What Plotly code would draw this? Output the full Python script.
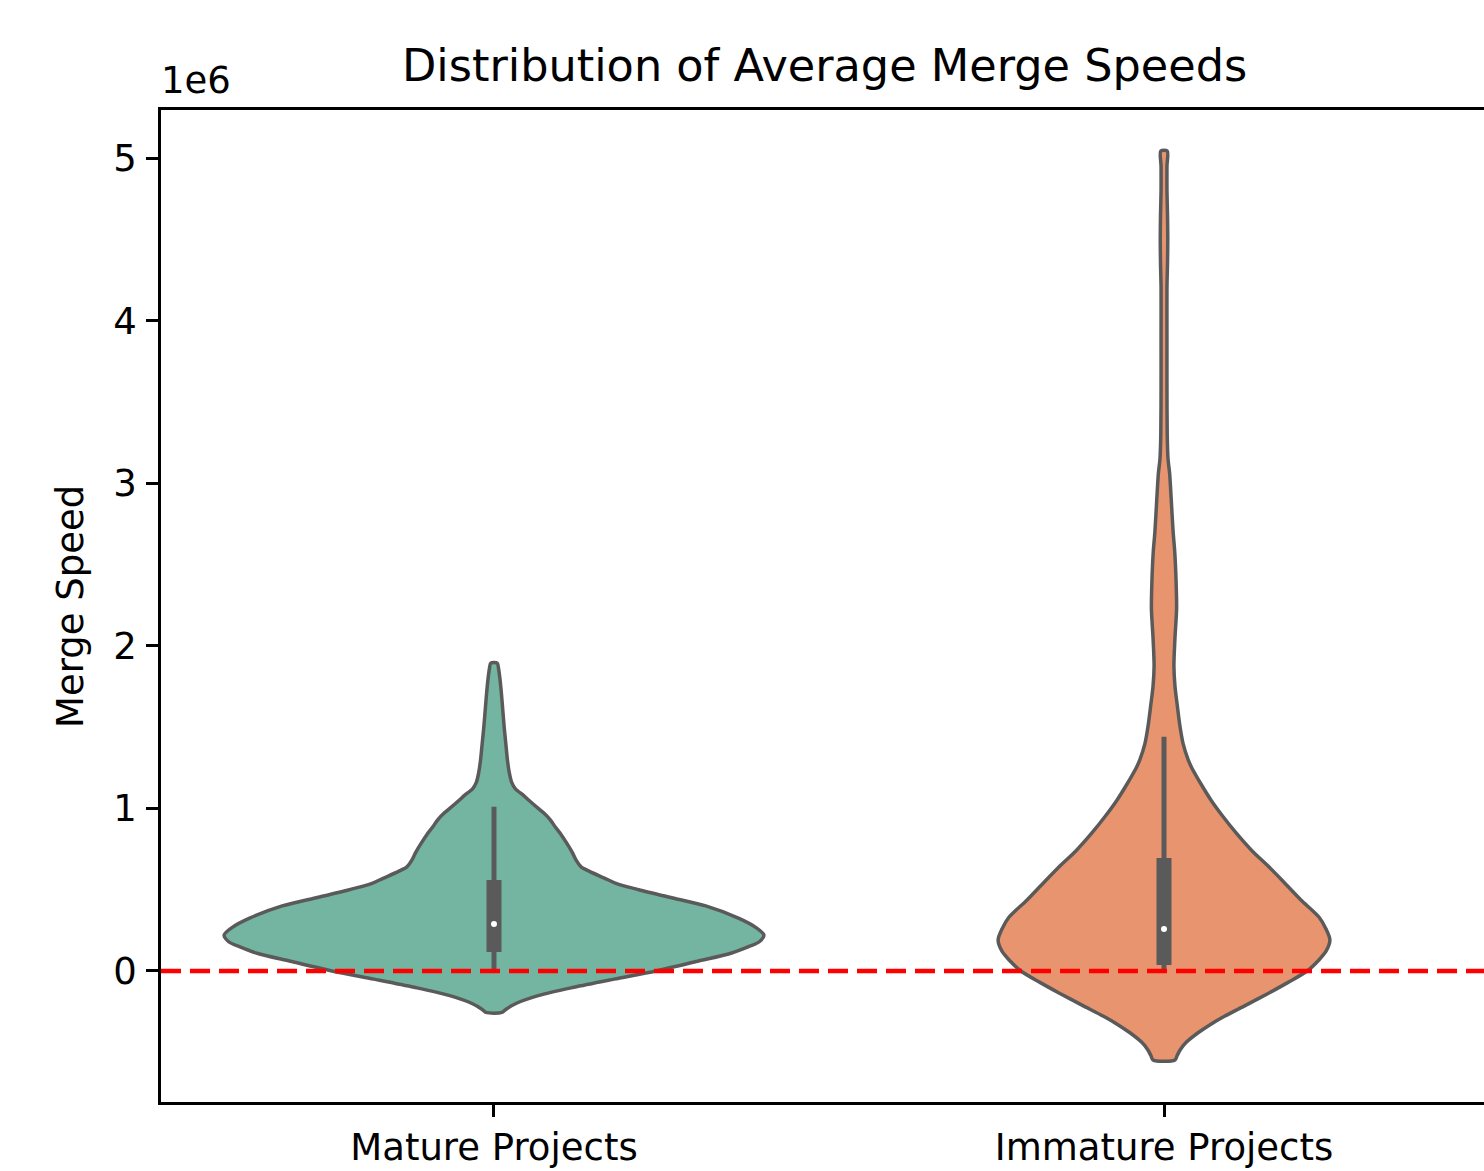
import plotly.graph_objects as go

# ---------------------------------------------------------------------------
# Data
# ---------------------------------------------------------------------------
categories = ["Mature Projects", "Immature Projects"]

# Kernel-density outline of each group: merge-speed levels (high -> low)
# and the relative density at each level (1.0 = widest point of the plot).
mature_levels = [
    1.894e6, 1.86e6, 1.80e6, 1.70e6, 1.60e6, 1.50e6, 1.40e6, 1.30e6, 1.22e6,
    1.16e6, 1.12e6, 1.08e6, 1.05e6, 1.00e6, 0.97e6, 0.93e6, 0.887e6, 0.84e6,
    0.785e6, 0.73e6, 0.683e6, 0.64e6, 0.611e6, 0.57e6, 0.539e6, 0.50e6,
    0.447e6, 0.40e6, 0.324e6, 0.27e6, 0.221e6, 0.18e6, 0.15e6, 0.109e6,
    0.06e6, 0.0, -0.05e6, -0.10e6, -0.15e6, -0.20e6, -0.235e6, -0.255e6,
]
mature_density = [
    0.012, 0.017, 0.022, 0.028, 0.033, 0.038, 0.044, 0.050, 0.057,
    0.066, 0.080, 0.110, 0.130, 0.165, 0.187, 0.210, 0.228, 0.250,
    0.272, 0.292, 0.306, 0.325, 0.358, 0.414, 0.455, 0.540,
    0.672, 0.790, 0.914, 0.975, 1.007, 0.990, 0.950, 0.884,
    0.760, 0.604, 0.448, 0.298, 0.168, 0.082, 0.045, 0.030,
]

immature_levels = [
    5.043e6, 4.95e6, 4.80e6, 4.65e6, 4.50e6, 4.35e6, 4.20e6, 3.90e6, 3.60e6,
    3.30e6, 3.15e6, 3.06e6, 2.90e6, 2.70e6, 2.58e6, 2.40e6, 2.23e6, 2.05e6,
    1.876e6, 1.75e6, 1.64e6, 1.50e6, 1.40e6, 1.30e6, 1.255e6, 1.15e6,
    1.052e6, 0.95e6, 0.849e6, 0.74e6, 0.64e6, 0.54e6, 0.437e6, 0.332e6,
    0.26e6, 0.191e6, 0.12e6, 0.068e6, 0.0, -0.07e6, -0.135e6, -0.21e6,
    -0.28e6, -0.33e6, -0.38e6, -0.44e6, -0.486e6, -0.52e6, -0.547e6,
]
immature_density = [
    0.012, 0.011, 0.011, 0.013, 0.014, 0.013, 0.011, 0.011, 0.011,
    0.012, 0.015, 0.021, 0.027, 0.034, 0.040, 0.045, 0.047, 0.041,
    0.037, 0.041, 0.049, 0.060, 0.071, 0.090, 0.102, 0.138,
    0.175, 0.220, 0.269, 0.328, 0.392, 0.451, 0.511, 0.578,
    0.604, 0.619, 0.604, 0.578, 0.534, 0.463, 0.392, 0.306,
    0.224, 0.172, 0.127, 0.082, 0.060, 0.049, 0.041,
]

# Box summary: lower whisker, Q1, median, Q3, upper whisker
mature_stats = [0.006e6, 0.117e6, 0.289e6, 0.56e6, 1.01e6]
immature_stats = [0.0, 0.037e6, 0.258e6, 0.695e6, 1.44e6]

y_tick_values = [0, 1e6, 2e6, 3e6, 4e6, 5e6]
y_tick_labels = ["0", "1", "2", "3", "4", "5"]

# ---------------------------------------------------------------------------
# Styling
# ---------------------------------------------------------------------------
FONT = "DejaVu Sans"
FILL_COLORS = ["#73b5a0", "#e8956f"]
EDGE = "#5a5a5a"
HALF_WIDTH = 0.4  # half of the violin width (category units)

fig = go.Figure()

groups = [
    (0, mature_levels, mature_density, mature_stats),
    (1, immature_levels, immature_density, immature_stats),
]

for pos, levels, density, stats in groups:
    asc_levels = levels[::-1]
    asc_density = density[::-1]
    # right half bottom -> top, then left half top -> bottom, then close
    xs = [pos + d * HALF_WIDTH for d in asc_density] + \
         [pos - d * HALF_WIDTH for d in density]
    ys = list(asc_levels) + list(levels)
    xs.append(xs[0])
    ys.append(ys[0])
    fig.add_trace(go.Scatter(
        x=xs, y=ys, mode="lines", fill="toself",
        fillcolor=FILL_COLORS[pos],
        line=dict(color=EDGE, width=3.5, shape="spline", smoothing=0.8),
        hoverinfo="skip", showlegend=False,
    ))
    lo, q1, med, q3, hi = stats
    # whisker
    fig.add_trace(go.Scatter(
        x=[pos, pos], y=[lo, hi], mode="lines",
        line=dict(color=EDGE, width=5),
        hoverinfo="skip", showlegend=False,
    ))
    # interquartile box
    fig.add_trace(go.Scatter(
        x=[pos, pos], y=[q1, q3], mode="lines",
        line=dict(color=EDGE, width=15),
        hoverinfo="skip", showlegend=False,
    ))
    # median
    fig.add_trace(go.Scatter(
        x=[pos], y=[med], mode="markers",
        marker=dict(color="white", size=6, line=dict(width=0)),
        hoverinfo="skip", showlegend=False,
    ))

# reference line at zero
fig.add_shape(
    type="line", xref="x domain", yref="y",
    x0=0, x1=1, y0=0, y1=0,
    line=dict(color="red", width=4.5, dash="20px,9px"),
    layer="above",
)

axis_common = dict(
    showgrid=False, zeroline=False,
    showline=True, linecolor="black", linewidth=2.5,
    ticks="outside", ticklen=12, tickwidth=2.5, tickcolor="black",
    tickfont=dict(family=FONT, size=37, color="black"),
)

fig.update_layout(
    width=1484, height=1171,
    margin=dict(l=161, r=0, t=110, b=69),
    paper_bgcolor="white", plot_bgcolor="white",
    showlegend=False,
    xaxis=dict(
        range=[-0.497, 1.4776],
        tickmode="array", tickvals=[0, 1], ticktext=categories,
        mirror=True, ticklabelstandoff=-1,
        **axis_common,
    ),
    yaxis=dict(
        range=[-0.8057e6, 5.2952e6],
        tickmode="array", tickvals=y_tick_values, ticktext=y_tick_labels,
        ticklabelstandoff=2,
        **axis_common,
    ),
    annotations=[
        dict(
            text="Distribution of Average Merge Speeds",
            xref="paper", yref="paper", x=0.5, y=1,
            xanchor="center", yanchor="bottom", yshift=16, xshift=2,
            showarrow=False,
            font=dict(family=FONT, size=44.6, color="black"),
        ),
        dict(
            text="1e6",
            xref="paper", yref="paper", x=0, y=1,
            xanchor="left", yanchor="bottom", yshift=6, xshift=-2,
            showarrow=False,
            font=dict(family=FONT, size=37, color="black"),
        ),
        dict(
            text="Merge Speed",
            xref="paper", yref="paper", x=0, y=0.5,
            xanchor="center", yanchor="middle", xshift=-91, yshift=-1,
            textangle=-90,
            showarrow=False,
            font=dict(family=FONT, size=37, color="black"),
        ),
    ],
)

fig.write_html("out.html")
